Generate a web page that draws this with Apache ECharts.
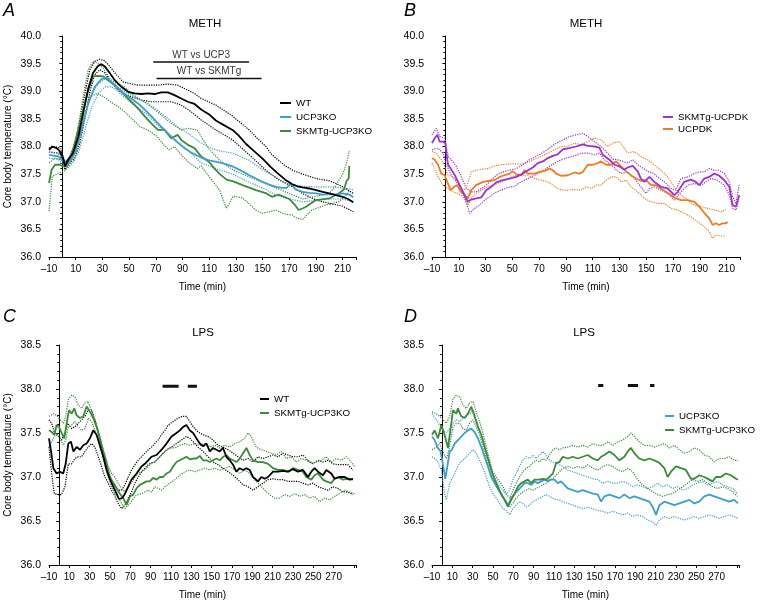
<!DOCTYPE html>
<html>
<head>
<meta charset="utf-8">
<script src="https://cdn.jsdelivr.net/npm/echarts@6/dist/echarts.min.js"></script>
<style>html,body{margin:0;padding:0;background:#fff}#c{width:760px;height:602px}</style>
</head>
<body>
<div id="c"></div>
<script>
// ---------------- DATA ([time min, temperature °C]) ----------------
// Panel A – METH
const A_WT = [[-10,37.94],[-7.5,38.0],[-4.3,37.97],[-1.8,37.91],[0.5,37.8],[2,37.64],[4.4,37.76],[8,37.88],[12,38.18],[15.6,38.6],[19.4,39.05],[23,39.33],[26.8,39.46],[29.3,39.49],[31.8,39.45],[35.5,39.33],[39.3,39.2],[44.2,39.08],[49.2,38.99],[54.2,38.96],[59.2,38.95],[64.1,38.96],[69.1,38.95],[74.1,38.98],[79,38.98],[84,38.93],[89,38.87],[94,38.81],[99,38.77],[104,38.67],[110,38.58],[115,38.47],[120,38.4],[127.5,38.3],[132,38.2],[137.5,38.05],[143,37.93],[150,37.78],[156,37.63],[162,37.5],[167,37.4],[172,37.32],[176,37.28],[180,37.26],[185,37.24],[190,37.21],[195,37.18],[200,37.15],[205,37.12],[210,37.09],[214,37.05],[218,36.99]];
const A_WT_up = [[-10,37.97],[-5.5,38.0],[-1,37.96],[2,37.7],[5.7,37.82],[9.4,38.06],[13.1,38.48],[16.9,38.96],[20.6,39.39],[24.3,39.54],[28,39.58],[31.8,39.55],[35.5,39.45],[40.5,39.3],[45.5,39.17],[50.4,39.14],[56.7,39.11],[64,39.11],[71.6,39.11],[79,39.13],[86.5,39.11],[94,39.02],[99,38.96],[104,38.87],[115,38.75],[127.5,38.55],[140,38.3],[146,38.15],[152.5,38.0],[157,37.85],[162,37.75],[167,37.65],[172.5,37.57],[180,37.5],[190,37.42],[200,37.38],[205,37.33],[210,37.27],[218,37.15]];
const A_WT_lo = [[-10,37.9],[-1.8,37.88],[2,37.58],[5.7,37.7],[9.4,37.79],[13.1,38.06],[16.9,38.51],[20.6,38.99],[24.3,39.3],[28,39.39],[31.8,39.33],[35.5,39.2],[40.5,39.05],[45.5,38.96],[51.7,38.9],[59.2,38.84],[66.6,38.81],[74.1,38.81],[81.5,38.81],[89,38.75],[96.5,38.63],[104,38.48],[115,38.3],[127.5,38.12],[140,37.85],[152.5,37.57],[162,37.4],[172.5,37.27],[180,37.15],[190,37.03],[200,36.97],[210,36.92],[218,36.82]];
const A_UCP = [[-10,37.85],[-3,37.82],[0.7,37.73],[2.4,37.67],[5.7,37.73],[9.4,37.88],[14.4,38.3],[19.4,38.78],[24.3,39.08],[29.3,39.22],[33,39.25],[36.8,39.17],[41.7,39.05],[46.7,38.95],[51.7,38.87],[56.7,38.78],[61.6,38.67],[66.6,38.55],[71.6,38.42],[76.6,38.3],[81.5,38.18],[86.5,38.07],[91.5,37.97],[96.5,37.89],[104,37.8],[110,37.75],[120,37.7],[127.5,37.64],[135,37.55],[140,37.48],[145,37.42],[150,37.36],[155,37.31],[160,37.27],[165,37.25],[168,37.25],[171,37.33],[175,37.22],[180,37.18],[185,37.16],[190,37.15],[195,37.13],[200,37.14],[205,37.13],[210,37.15],[215,37.13],[218,37.08]];
const A_UCP_up = [[-10,37.9],[-3,37.87],[2.4,37.73],[7,37.82],[12,38.06],[17,38.57],[22,38.96],[27,39.14],[32,39.22],[37,39.17],[42,39.07],[49,38.96],[56,38.87],[64,38.78],[71,38.66],[79,38.51],[86,38.36],[94,38.24],[103,38.08],[110,37.98],[118,37.92],[127.5,37.88],[140,37.75],[150,37.58],[160,37.44],[170,37.32],[180,37.28],[190,37.27],[200,37.27],[210,37.25],[218,37.22]];
const A_UCP_lo = [[-10,37.79],[-3,37.77],[2.4,37.61],[7,37.76],[12,37.88],[17,38.3],[22,38.72],[27,38.96],[32,39.08],[37,39.08],[42,38.99],[49,38.84],[56,38.71],[64,38.57],[71,38.39],[79,38.24],[86,38.09],[94,37.94],[104,37.7],[115,37.6],[127.5,37.5],[140,37.35],[150,37.25],[160,37.12],[170,37.05],[180,37.0],[190,37.02],[200,37.05],[210,37.05],[218,37.0]];
const A_SK = [[-10,37.34],[-8,37.58],[-5.5,37.67],[-2,37.67],[0.7,37.64],[2.4,37.65],[4.4,37.7],[8,37.94],[12,38.3],[15.6,38.66],[19.4,39.02],[23,39.27],[26.8,39.28],[30.5,39.27],[34.3,39.2],[39.3,39.11],[43,39.02],[46.7,38.93],[51.7,38.81],[56.7,38.69],[61.6,38.55],[66.6,38.42],[71.6,38.3],[76.6,38.3],[81.5,38.15],[86.5,38.21],[89,38.12],[94,38.03],[99,37.97],[104,37.82],[110,37.72],[114,37.6],[118,37.5],[123,37.4],[128,37.37],[135,37.3],[145,37.21],[153,37.15],[157,37.09],[162,37.13],[170,37.05],[174,36.95],[177,36.85],[182,36.9],[190,37.03],[200,37.06],[207,37.15],[211,37.22],[213,37.38],[214.5,37.42],[215,37.65]];
const A_SK_up = [[-10,37.7],[-5.5,37.79],[2,37.73],[7,37.82],[12,38.36],[15.6,38.9],[19.4,39.39],[23,39.54],[26.8,39.51],[30.5,39.42],[35.5,39.23],[40.5,39.14],[46.7,39.08],[51.7,38.96],[59,38.84],[66.6,38.72],[74,38.57],[81.5,38.42],[89,38.3],[94,38.33],[101,38.3],[104,38.18],[110,37.95],[118,37.75],[125,37.62],[130,37.55],[140,37.45],[150,37.35],[160,37.25],[165,37.2],[175,37.1],[180,37.05],[190,37.1],[200,37.15],[205,37.3],[210,37.5],[213,37.7],[215,37.92]];
const A_SK_lo = [[-10,36.83],[-7.5,37.46],[-2.5,37.52],[1.2,37.55],[5,37.64],[8.7,37.73],[12.4,38.12],[16.2,38.54],[21,38.9],[26,38.96],[31,38.9],[36,38.81],[42,38.72],[48,38.6],[53,38.48],[58,38.36],[64,38.3],[71,38.18],[76,38.03],[80,37.94],[84,38.0],[89,37.85],[94,37.73],[101,37.6],[104,37.65],[110,37.45],[115,37.3],[118,37.2],[121,37.0],[123,36.88],[128,37.1],[135,37.07],[145,36.85],[150,36.79],[160,36.85],[166,36.78],[172,36.76],[176,36.7],[180,36.68],[187,36.85],[197,36.94],[207,37.0],[212,37.1],[215,37.2]];
const A_sig1 = [[68.1,39.53],[139.9,39.53]];
const A_sig2 = [[70.6,39.23],[149.2,39.23]];

// Panel B – METH
const B_SKD = [[-10,38.06],[-8,38.15],[-6,38.21],[-4.3,38.09],[-1.8,38.09],[0,38.06],[0.7,37.88],[2,37.67],[4,37.6],[7,37.48],[10.6,37.3],[14.4,37.12],[16.8,37.0],[19.3,37.04],[23,37.06],[26.8,37.08],[30.5,37.21],[34.2,37.27],[38,37.35],[43,37.39],[48,37.42],[52.9,37.45],[57.9,37.51],[61.6,37.57],[65.3,37.62],[69,37.7],[72.8,37.73],[76.5,37.79],[80.2,37.83],[84,37.86],[87.7,37.95],[92.7,37.97],[97.6,38.0],[102.6,38.04],[106.3,38.01],[111.3,38.0],[115,37.98],[117.5,37.85],[122.5,37.76],[126.2,37.67],[130,37.64],[133.7,37.58],[136,37.62],[139.9,37.65],[143.6,37.55],[146,37.42],[148.6,37.36],[152.3,37.45],[156,37.36],[161,37.27],[166,37.24],[171,37.12],[173.5,37.18],[178.4,37.36],[183.4,37.4],[187,37.36],[189.6,37.3],[193.3,37.42],[197,37.45],[200.8,37.51],[204.5,37.47],[208.3,37.39],[212,37.27],[214.5,36.94],[217,36.91],[219.4,37.12]];
const B_SKD_up = [[-10,38.21],[-6.8,38.33],[-4.3,38.18],[-0.5,38.15],[2,37.82],[4.4,37.76],[8.2,37.64],[11.9,37.45],[15.6,37.24],[19.3,37.18],[23,37.18],[26.8,37.24],[30.5,37.3],[34.3,37.39],[38,37.48],[43,37.54],[48,37.57],[52.9,37.6],[57.9,37.67],[62.8,37.76],[67.8,37.82],[72.8,37.89],[77.7,37.97],[82.7,38.06],[87.7,38.12],[92.7,38.18],[97.6,38.21],[102.6,38.24],[106.3,38.18],[111.3,38.09],[116.3,38.0],[121.2,37.88],[125,37.77],[128.7,37.76],[132.4,37.73],[136.2,37.7],[139.9,37.76],[143.6,37.67],[147.3,37.61],[151,37.55],[154.8,37.52],[158.5,37.45],[163.5,37.36],[168.5,37.24],[172.2,37.21],[175.9,37.42],[180.9,37.45],[185.9,37.51],[189.6,37.54],[193.3,37.54],[197,37.6],[200.8,37.57],[204.5,37.57],[208.3,37.51],[212,37.36],[214.5,37.09],[217,36.97],[219.4,37.3]];
const B_SKD_lo = [[-10,37.94],[-5.5,37.97],[-1.8,37.88],[0.7,37.67],[4.4,37.48],[8.2,37.36],[11.9,37.21],[15.6,37.0],[18.1,36.79],[21.8,36.88],[25.5,36.94],[29.3,37.03],[33,37.09],[36.7,37.16],[41.7,37.21],[46.7,37.26],[51.6,37.28],[56.6,37.36],[61.6,37.42],[66.6,37.48],[71.5,37.54],[76.5,37.62],[81.5,37.7],[86.4,37.76],[91.4,37.8],[96.4,37.83],[101.4,37.88],[106.3,37.88],[111.3,37.85],[115,37.88],[118.7,37.76],[123.7,37.67],[127.5,37.58],[131.2,37.51],[136.2,37.54],[141.1,37.42],[146,37.27],[149.8,37.15],[152.3,37.24],[156,37.27],[161,37.21],[166,37.15],[171,37.03],[176,37.18],[181,37.3],[186,37.33],[191,37.3],[194.5,37.36],[198.2,37.42],[203.2,37.39],[208.2,37.3],[212,37.12],[214.5,36.88],[217,36.85],[219.4,37.09]];
const B_UD = [[-10,37.79],[-8,37.76],[-5.5,37.67],[-3,37.51],[-0.5,37.48],[1.4,37.36],[4,37.21],[6.4,37.27],[9,37.3],[11.4,37.18],[14.4,37.12],[16.8,37.06],[19.3,37.21],[23,37.3],[28,37.36],[33,37.38],[36.7,37.39],[40.5,37.45],[44.2,37.48],[48,37.51],[50.4,37.55],[52.9,37.5],[56.6,37.48],[59,37.57],[61.6,37.51],[66.6,37.51],[70.3,37.54],[74,37.56],[77.7,37.6],[80.2,37.57],[82.7,37.51],[86.4,37.47],[91.4,37.48],[96.4,37.53],[100,37.51],[102.6,37.54],[106.3,37.67],[110,37.67],[113.8,37.7],[116.3,37.73],[120,37.67],[123.7,37.67],[127.5,37.73],[131.2,37.64],[135,37.55],[138.6,37.48],[142.4,37.42],[146,37.38],[149.8,37.39],[153.6,37.3],[157.3,37.3],[161,37.24],[164.7,37.18],[168.5,37.12],[172.2,37.06],[175.9,37.03],[180.9,37.03],[185.9,37.0],[189.6,36.91],[193.3,36.8],[197,36.7],[199.5,36.58],[202,36.61],[204.5,36.58],[207,36.61],[209.5,36.61],[210.7,36.64]];
const B_UD_up = [[-10,37.91],[-6.8,37.88],[-3,37.76],[-0.5,37.64],[2,37.48],[5.7,37.45],[9.4,37.36],[13.1,37.21],[15.6,37.24],[19.3,37.54],[23,37.57],[26.8,37.59],[31.8,37.6],[36.7,37.65],[41.7,37.67],[46.7,37.68],[51.6,37.69],[56.6,37.68],[61.6,37.71],[66.6,37.77],[71.5,37.82],[76.5,37.88],[81.5,37.94],[86.4,38.0],[91.4,38.0],[96.4,38.06],[101.4,38.03],[106.3,38.09],[111.3,38.15],[116.3,38.12],[121.2,38.0],[125,38.06],[130,38.09],[136.2,37.88],[141,37.91],[146,37.82],[151,37.76],[156,37.67],[161,37.57],[166,37.45],[171,37.27],[176,37.12],[181,37.03],[186,36.94],[191,36.91],[196,36.88],[201,36.85],[206,36.82],[209.5,36.86]];
const B_UD_lo = [[-10,37.7],[-5.5,37.45],[-1.8,37.3],[2,37.24],[5.7,37.18],[9.4,37.15],[13.1,37.09],[16.9,36.94],[19.3,37.06],[23,37.15],[26.8,37.21],[30.5,37.26],[34.3,37.3],[38,37.32],[41.7,37.36],[46.7,37.42],[51.6,37.47],[56.6,37.48],[61.6,37.48],[66.6,37.42],[71.5,37.39],[76.5,37.36],[80.2,37.3],[84,37.24],[87.7,37.21],[91.4,37.21],[96.4,37.22],[101.4,37.21],[105,37.27],[108.8,37.24],[112.5,37.3],[116.3,37.3],[120,37.39],[123.7,37.45],[127.5,37.45],[131.2,37.36],[135,37.39],[138.6,37.27],[143.6,37.18],[148.6,37.06],[153.6,37.0],[158.5,36.97],[163.5,36.97],[168.5,36.88],[173.5,36.85],[178.4,36.79],[183.4,36.73],[188.3,36.64],[193.3,36.55],[197,36.46],[199.5,36.34],[202,36.4],[205.7,36.38],[209.5,36.38]];

// Panel C – LPS
const C_WT = [[-10,37.44],[-8,37.29],[-5.7,37.1],[-2.5,37.04],[0.8,37.06],[4,37.04],[6.4,37.15],[9,37.38],[11.6,37.4],[14,37.29],[17.2,37.34],[20.5,37.31],[23.7,37.36],[27,37.38],[30.3,37.44],[33.5,37.53],[36.8,37.48],[40,37.36],[43.4,37.23],[46.6,37.08],[50,36.97],[53.2,36.89],[56.5,36.81],[58.8,36.75],[62,36.76],[64.7,36.81],[68,36.89],[71.2,36.97],[76.1,37.04],[81,37.12],[84.3,37.15],[87.6,37.19],[90.8,37.23],[95.8,37.25],[100.7,37.31],[105.6,37.38],[110.5,37.46],[115.4,37.5],[118.7,37.53],[122,37.57],[125.2,37.59],[128.5,37.53],[131.8,37.5],[135,37.44],[138.3,37.38],[141.6,37.35],[144.9,37.38],[148.2,37.29],[151.4,37.33],[154.7,37.31],[158,37.29],[161.2,37.33],[164.5,37.23],[167.8,37.19],[171,37.14],[174.3,37.06],[177.6,37.1],[180.9,37.08],[184.2,37.1],[187.4,37.08],[190.7,37.0],[195.6,36.95],[198.9,37.0],[202.2,36.98],[205.5,37.0],[210.4,37.06],[215.3,37.06],[220.2,37.07],[225.1,37.06],[230,37.09],[235,37.06],[239.8,37.08],[244.8,37.0],[248,37.06],[251.3,37.1],[254.6,37.06],[259.5,37.02],[262.8,37.08],[267.7,37.04],[271,36.98],[275.9,37.0],[280.8,37.0],[285.7,36.97],[289,36.98]];
const C_WT_up = [[-10,37.65],[-7.4,37.61],[-4.8,37.51],[-0.8,37.46],[2.4,37.42],[5.7,37.51],[8.3,37.61],[12.3,37.55],[15.5,37.57],[18.8,37.61],[22.1,37.65],[25.4,37.69],[28.6,37.76],[31.9,37.76],[35.2,37.65],[38.5,37.5],[41.7,37.34],[45,37.19],[48.3,37.06],[51.6,36.97],[54.8,36.91],[58.1,36.85],[61.4,36.85],[64.7,36.91],[67.9,37.0],[71.2,37.08],[74.5,37.14],[77.8,37.19],[81,37.23],[84.3,37.27],[87.6,37.31],[90.9,37.34],[94.1,37.38],[97.4,37.42],[100.7,37.48],[104,37.53],[107.2,37.59],[112.1,37.63],[117,37.67],[121.9,37.69],[125.2,37.69],[128.5,37.63],[131.8,37.57],[136.7,37.51],[141.6,37.48],[146.5,37.46],[151.4,37.42],[156.3,37.36],[161.3,37.34],[166.2,37.31],[171.1,37.27],[176,37.23],[180.9,37.19],[185.8,37.21],[190.7,37.17],[195.6,37.23],[200.5,37.21],[205.5,37.23],[210.4,37.25],[215.3,37.23],[220.2,37.27],[225.1,37.25],[230,37.23],[234.9,37.23],[239.8,37.25],[244.7,37.19],[249.7,37.15],[254.6,37.19],[259.5,37.17],[264.4,37.19],[269.3,37.15],[274.2,37.14],[279.1,37.14],[284,37.14],[289,37.08]];
const C_WT_lo = [[-10,37.34],[-7.4,37.04],[-4.8,36.81],[-0.8,36.8],[2.4,36.8],[5.7,36.89],[9,37.15],[12.3,37.15],[15.5,37.21],[18.8,37.23],[22.1,37.23],[25.4,37.29],[28.6,37.34],[31.9,37.38],[35.2,37.34],[38.5,37.23],[41.7,37.12],[45,37.0],[48.3,36.93],[51.6,36.85],[54.8,36.78],[58.1,36.7],[61.4,36.64],[64.7,36.68],[67.9,36.76],[71.2,36.83],[74.5,36.93],[77.8,37.0],[81,37.06],[84.3,37.1],[87.6,37.14],[90.9,37.16],[94.1,37.17],[97.4,37.21],[100.7,37.25],[105.6,37.31],[110.5,37.34],[115.4,37.38],[120.3,37.42],[125.2,37.46],[128.5,37.44],[131.8,37.4],[136.7,37.34],[141.6,37.29],[146.5,37.23],[151.4,37.17],[156.3,37.14],[161.3,37.1],[166.2,37.06],[171.1,37.02],[176,36.97],[180.9,36.91],[185.8,36.89],[190.7,36.85],[195.6,36.89],[200.5,36.93],[205.5,36.97],[210.4,36.98],[215.3,36.97],[220.2,36.97],[225.1,36.95],[230,36.95],[234.9,36.95],[239.8,36.93],[244.7,36.91],[249.7,36.93],[254.6,36.89],[259.5,36.87],[264.4,36.85],[269.3,36.89],[274.2,36.87],[279.1,36.83],[284,36.83],[289,36.8]];
const C_SK = [[-10,37.53],[-7.4,37.51],[-4.8,37.48],[-2.5,37.59],[-0.2,37.57],[2.4,37.5],[5.1,37.44],[7.4,37.61],[9.6,37.76],[12.3,37.72],[14.9,37.78],[17.2,37.7],[20.5,37.67],[23.7,37.69],[27,37.8],[30.3,37.74],[33.5,37.67],[36.8,37.57],[40.1,37.44],[43.4,37.29],[46.6,37.16],[49.9,37.0],[53.2,36.93],[56.5,36.87],[59.7,36.81],[63,36.76],[66.3,36.68],[69.6,36.78],[72.8,36.8],[76.1,36.87],[79.4,36.91],[82.7,36.93],[85.9,36.95],[89.2,36.95],[92.5,36.99],[95.8,36.97],[99,37.0],[102.3,37.0],[105.6,37.04],[108.9,37.06],[112.1,37.12],[115.4,37.17],[118.7,37.19],[122,37.21],[125.2,37.23],[128.5,37.2],[131.8,37.21],[135.1,37.21],[138.3,37.24],[141.6,37.19],[144.9,37.19],[148.2,37.17],[151.4,37.19],[154.7,37.21],[158,37.19],[161.3,37.23],[164.5,37.25],[167.8,37.21],[171.1,37.19],[174.3,37.17],[177.6,37.21],[180.9,37.27],[184.2,37.33],[187.4,37.25],[190.7,37.19],[195.6,37.17],[200.5,37.17],[205.5,37.15],[210.4,37.1],[215.3,37.08],[220.2,37.08],[225.1,37.06],[230,37.1],[234.9,37.08],[239.8,37.06],[243.1,37.0],[248,36.97],[251.3,37.02],[254.6,37.04],[259.5,36.97],[262.8,36.95],[267.7,36.93],[270.9,36.98],[274.2,37.0],[279.1,36.97],[284,36.98],[289,36.97]];
const C_SK_up = [[-10,37.69],[-5.7,37.72],[-2.5,37.7],[0.8,37.65],[4.1,37.61],[6.4,37.69],[9,37.88],[12.3,37.93],[15.5,37.91],[18.8,37.82],[22.1,37.78],[25.4,37.84],[28.6,37.86],[31.9,37.74],[35.2,37.65],[38.5,37.53],[41.7,37.38],[45,37.25],[48.3,37.12],[51.6,37.04],[54.8,37.0],[58.1,36.93],[61.4,36.87],[64.7,36.83],[67.9,36.89],[71.2,36.93],[74.5,37.0],[77.8,37.04],[81,37.06],[84.3,37.08],[87.6,37.12],[90.9,37.16],[94.1,37.17],[97.4,37.21],[100.7,37.25],[104,37.29],[108.9,37.33],[113.8,37.33],[118.7,37.36],[123.6,37.38],[128.5,37.36],[133.4,37.38],[138.3,37.36],[143.2,37.38],[148.2,37.34],[153.1,37.36],[158,37.33],[162.9,37.36],[167.8,37.34],[172.7,37.38],[177.6,37.4],[182.5,37.44],[185.8,37.5],[189,37.46],[193.9,37.34],[198.9,37.31],[203.8,37.29],[208.7,37.27],[213.6,37.25],[218.6,37.29],[223.5,37.21],[228.4,37.23],[233.3,37.17],[238.2,37.21],[243.1,37.19],[248,37.16],[252.9,37.17],[257.8,37.19],[262.8,37.23],[267.7,37.17],[272.6,37.21],[277.5,37.19],[282.4,37.23],[287.3,37.17],[290.6,37.12]];
const C_SK_lo = [[-10,37.34],[-5.7,37.44],[-2.5,37.5],[0.8,37.44],[4.1,37.36],[6.4,37.42],[9,37.57],[12.3,37.59],[15.5,37.63],[18.8,37.57],[22.1,37.53],[25.4,37.55],[28.6,37.67],[31.9,37.63],[35.2,37.53],[38.5,37.42],[41.7,37.29],[45,37.14],[48.3,37.0],[51.6,36.89],[54.8,36.81],[58.1,36.76],[61.4,36.7],[64.7,36.64],[67.9,36.68],[71.2,36.72],[74.5,36.78],[77.8,36.8],[81,36.81],[84.3,36.83],[87.6,36.85],[90.9,36.83],[94.1,36.89],[97.4,36.87],[100.7,36.85],[104,36.89],[108.9,36.93],[113.8,36.97],[118.7,37.02],[123.6,37.06],[128.5,37.08],[133.4,37.06],[138.3,37.08],[143.2,37.1],[148.2,37.08],[153.1,37.1],[158,37.08],[162.9,37.1],[167.8,37.12],[172.7,37.08],[177.6,37.04],[182.5,37.08],[187.4,37.04],[192.3,36.97],[197.3,36.91],[202.2,36.85],[207.1,36.8],[212,36.76],[216.9,36.76],[221.8,36.8],[226.7,36.78],[231.6,36.81],[236.6,36.78],[241.5,36.8],[246.4,36.76],[251.3,36.78],[256.2,36.72],[261.1,36.76],[266,36.74],[270.9,36.78],[275.9,36.81],[280.8,36.85],[285.7,36.83],[290.6,36.81]];
const C_sig1 = [[101.7,38.03],[117.5,38.03]];
const C_sig2 = [[126.5,38.03],[135.5,38.03]];

// Panel D – LPS
const D_UCP = [[-10,37.46],[-7.4,37.42],[-4.8,37.34],[-1.5,37.29],[0.8,37.14],[3.1,36.98],[5.1,37.12],[7.4,37.29],[9.6,37.31],[12.3,37.38],[15.5,37.42],[18.8,37.46],[22.1,37.5],[25.4,37.53],[28.6,37.55],[31.9,37.51],[35.2,37.44],[38.5,37.34],[41.7,37.23],[45,37.12],[48.3,37.0],[51.6,36.93],[54.8,36.87],[58.1,36.81],[61.4,36.74],[64.7,36.66],[67.9,36.76],[71.2,36.81],[74.5,36.85],[77.8,36.89],[81,36.93],[84.3,36.93],[87.6,36.91],[90.9,36.95],[94.1,36.93],[97.4,36.95],[100.7,36.97],[104,36.95],[107.2,36.97],[110.5,36.97],[113.8,36.93],[117,36.95],[120.3,36.91],[123.6,36.87],[128.5,36.85],[133.4,36.83],[138.3,36.85],[143.2,36.83],[148.2,36.81],[153.1,36.8],[156.3,36.72],[159.6,36.78],[164.5,36.8],[169.4,36.78],[174.3,36.76],[179.2,36.8],[184.2,36.76],[189.1,36.78],[194,36.76],[198.9,36.74],[203.8,36.72],[207.1,36.66],[210.4,36.57],[213.6,36.68],[218.6,36.72],[223.5,36.7],[228.4,36.68],[233.3,36.7],[238.2,36.72],[243.1,36.74],[248,36.7],[252.9,36.72],[257.8,36.78],[262.8,36.8],[267.7,36.78],[272.6,36.76],[277.5,36.74],[282.4,36.72],[287.3,36.74],[291,36.7]];
const D_UCP_up = [[-10,37.72],[-5.7,37.65],[-2.5,37.59],[0.8,37.53],[4.1,37.5],[7.4,37.55],[10.6,37.61],[13.9,37.65],[17.2,37.63],[20.5,37.67],[23.7,37.7],[27,37.72],[30.3,37.76],[33.5,37.65],[36.8,37.53],[40.1,37.42],[43.4,37.29],[46.6,37.16],[49.9,37.02],[53.2,36.97],[56.5,36.89],[59.7,36.85],[63,36.8],[66.3,36.85],[69.6,36.97],[72.8,37.04],[76.1,37.12],[79.4,37.19],[82.7,37.23],[85.9,37.21],[89.2,37.25],[92.5,37.21],[95.8,37.25],[99,37.29],[102.3,37.25],[105.6,37.19],[108.9,37.17],[112.1,37.16],[115.4,37.14],[118.7,37.12],[123.6,37.08],[128.5,37.06],[133.4,37.04],[138.3,37.02],[143.2,37.0],[148.2,36.98],[153.1,36.97],[158,36.93],[162.9,36.95],[167.8,36.93],[172.7,36.93],[177.6,36.95],[182.5,36.93],[187.4,36.89],[192.3,36.91],[197.3,36.89],[202.2,36.87],[207.1,36.89],[212,36.93],[216.9,36.89],[221.8,36.91],[226.7,36.87],[231.6,36.89],[236.6,36.85],[241.5,36.87],[246.4,36.91],[251.3,36.93],[256.2,36.95],[261.1,36.91],[266,36.93],[270.9,36.95],[275.9,36.91],[280.8,36.89],[285.7,36.87],[290.6,36.81]];
const D_UCP_lo = [[-10,37.23],[-7.4,37.21],[-4.1,37.17],[-0.8,37.08],[2.4,36.81],[4.1,36.74],[7.4,36.93],[10.6,37.0],[13.9,37.08],[17.2,37.16],[20.5,37.19],[23.7,37.23],[27,37.27],[30.3,37.31],[33.5,37.27],[36.8,37.19],[40.1,37.1],[43.4,37.0],[46.6,36.89],[49.9,36.81],[53.2,36.76],[56.5,36.7],[59.7,36.64],[63,36.62],[66.3,36.57],[69.6,36.64],[72.8,36.68],[76.1,36.72],[79.4,36.7],[82.7,36.66],[85.9,36.68],[89.2,36.72],[92.5,36.74],[95.8,36.76],[99,36.78],[102.3,36.8],[105.6,36.78],[108.9,36.76],[112.1,36.74],[115.4,36.74],[118.7,36.72],[123.6,36.7],[128.5,36.68],[133.4,36.66],[138.3,36.64],[143.2,36.66],[148.2,36.64],[153.1,36.62],[158,36.61],[162.9,36.59],[167.8,36.61],[172.7,36.59],[177.6,36.57],[182.5,36.59],[187.4,36.55],[192.3,36.57],[197.3,36.55],[202.2,36.51],[207.1,36.49],[210.4,36.45],[213.6,36.51],[218.6,36.55],[223.5,36.53],[228.4,36.55],[233.3,36.53],[238.2,36.51],[243.1,36.53],[248,36.55],[252.9,36.53],[257.8,36.55],[262.8,36.57],[267.7,36.55],[272.6,36.53],[277.5,36.55],[282.4,36.57],[287.3,36.55],[291,36.53]];
const D_SK = [[-10,37.48],[-7.4,37.53],[-4.1,37.44],[-0.8,37.59],[2.4,37.48],[5.7,37.33],[9,37.61],[10.6,37.76],[13.9,37.72],[15.5,37.78],[18.8,37.69],[22.1,37.67],[25.4,37.72],[28.6,37.8],[31.9,37.69],[35.2,37.57],[38.5,37.48],[41.7,37.34],[45,37.21],[48.3,37.08],[51.6,36.97],[54.8,36.89],[58.1,36.8],[61.4,36.74],[64.7,36.67],[67.9,36.74],[71.2,36.81],[74.5,36.89],[77.8,36.93],[81,36.95],[84.3,36.97],[87.6,36.93],[90.9,36.97],[95.8,36.97],[99,36.98],[102.3,36.97],[105.6,37.0],[108.9,37.04],[112.1,37.16],[115.4,37.17],[118.7,37.23],[123.6,37.21],[128.5,37.23],[133.4,37.21],[138.3,37.23],[143.2,37.25],[148.2,37.21],[153.1,37.19],[156.3,37.23],[159.6,37.25],[164.5,37.29],[169.4,37.25],[174.3,37.19],[179.2,37.23],[182.5,37.29],[185.8,37.33],[189,37.27],[193.9,37.21],[198.9,37.19],[203.8,37.21],[208.7,37.19],[213.6,37.16],[218.6,37.1],[221.8,37.0],[225.1,37.06],[230,37.12],[234.9,37.1],[239.8,37.08],[244.7,36.98],[248,36.98],[252.9,37.02],[257.8,37.0],[262.8,36.97],[266,36.95],[269.3,37.0],[274.2,37.0],[279.1,37.04],[284,37.02],[289,36.98],[291,36.97]];
const D_SK_up = [[-10,37.74],[-5.7,37.72],[-2.5,37.69],[0.8,37.65],[4.1,37.61],[7.4,37.69],[10.6,37.89],[13.9,37.93],[17.2,37.91],[20.5,37.82],[23.7,37.78],[27,37.84],[30.3,37.86],[33.5,37.74],[36.8,37.63],[40.1,37.5],[43.4,37.34],[46.6,37.19],[49.9,37.06],[53.2,37.0],[56.5,36.95],[59.7,36.89],[63,36.81],[66.3,36.76],[69.6,36.85],[72.8,36.93],[76.1,37.0],[79.4,37.06],[82.7,37.1],[85.9,37.12],[89.2,37.16],[92.5,37.19],[95.8,37.17],[99,37.21],[102.3,37.19],[105.6,37.25],[108.9,37.31],[112.1,37.33],[115.4,37.31],[118.7,37.33],[123.6,37.34],[128.5,37.36],[133.4,37.34],[138.3,37.36],[143.2,37.34],[148.2,37.38],[153.1,37.36],[158,37.36],[162.9,37.4],[167.8,37.36],[172.7,37.4],[177.6,37.42],[182.5,37.46],[185.8,37.5],[189,37.46],[193.9,37.4],[198.9,37.36],[203.8,37.36],[208.7,37.34],[213.6,37.36],[218.6,37.38],[223.5,37.33],[228.4,37.36],[233.3,37.31],[238.2,37.27],[243.1,37.29],[248,37.33],[252.9,37.31],[257.8,37.25],[262.8,37.23],[267.7,37.17],[272.6,37.21],[277.5,37.21],[282.4,37.23],[287.3,37.19],[291,37.19]];
const D_SK_lo = [[-10,37.31],[-5.7,37.34],[-2.5,37.38],[0.8,37.29],[4.1,37.21],[6.4,37.29],[10.6,37.57],[13.9,37.61],[17.2,37.61],[20.5,37.55],[23.7,37.53],[27,37.61],[30.3,37.65],[33.5,37.57],[36.8,37.48],[40.1,37.34],[43.4,37.21],[46.6,37.08],[49.9,36.97],[53.2,36.89],[56.5,36.83],[59.7,36.78],[63,36.72],[66.3,36.66],[69.6,36.7],[72.8,36.76],[76.1,36.8],[79.4,36.83],[82.7,36.85],[85.9,36.87],[89.2,36.85],[92.5,36.87],[95.8,36.89],[99,36.91],[102.3,36.93],[105.6,36.97],[108.9,36.98],[112.1,37.02],[115.4,37.06],[118.7,37.1],[123.6,37.12],[128.5,37.1],[133.4,37.12],[138.3,37.1],[143.2,37.14],[148.2,37.1],[153.1,37.08],[158,37.12],[162.9,37.14],[167.8,37.12],[172.7,37.08],[177.6,37.06],[182.5,37.1],[187.4,37.06],[192.3,36.97],[197.3,36.91],[202.2,36.87],[207.1,36.83],[212,36.8],[216.9,36.78],[221.8,36.8],[226.7,36.81],[231.6,36.85],[236.6,36.89],[241.5,36.93],[246.4,36.97],[251.3,36.95],[256.2,36.97],[261.1,36.93],[266,36.89],[270.9,36.87],[275.9,36.89],[280.8,36.87],[285.7,36.83],[290.6,36.78]];
const D_sig1 = [[153.5,38.04],[158.5,38.04]];
const D_sig2 = [[182.7,38.04],[192.7,38.04]];
const D_sig3 = [[204.5,38.04],[208.8,38.04]];

// ---------------- STYLE ----------------
const FONT = 'Liberation Sans, Arial, Helvetica, sans-serif';
const COL = {WT:'#000000', UCP:'#3d9fcb', SK:'#3b8b3b', SKD:'#9c31d4', UD:'#f27b1f'};

function ln(name, data, color, g, dotted) {
  return {type:'line', name, data, xAxisIndex:g, yAxisIndex:g, symbol:'none', showSymbol:false,
    silent:true, animation:false, z: dotted ? 2 : 3,
    lineStyle:{color, width: dotted ? 1.2 : 1.8, type: dotted ? 'dotted' : 'solid'},
    itemStyle:{color}};
}
function bar(data, g, w) {
  return {type:'line', data, xAxisIndex:g, yAxisIndex:g, symbol:'none', silent:true, animation:false,
    lineStyle:{color:'#111', width:w}, itemStyle:{color:'#111'}, z:4};
}
function txt(x, y, text, g) {
  return {type:'scatter', data:[[x,y]], xAxisIndex:g, yAxisIndex:g, symbolSize:0, silent:true, animation:false,
    label:{show:true, position:'top', distance:2, formatter:text, color:'#000', fontSize:10, fontFamily:FONT}};
}
function xAx(g, max, lastLabel, name) {
  return {type:'value', gridIndex:g, min:-10, max, interval:20,
    name, nameLocation:'middle', nameGap:25, nameTextStyle:{fontSize:10, color:'#000', fontFamily:FONT},
    axisLine:{show:true, onZero:false, lineStyle:{color:'#000', width:1}},
    axisTick:{show:true, length:3, lineStyle:{color:'#000'}},
    splitLine:{show:false},
    axisLabel:{fontSize:10, color:'#000', fontFamily:FONT, margin:7,
      formatter: v => (v > lastLabel ? '' : String(v).replace('-', '\u2013'))}};
}
function yAx(g, max, name) {
  return {type:'value', gridIndex:g, min:36, max, interval:0.5,
    name: name || '', nameLocation:'middle', nameGap:36, nameTextStyle:{fontSize:10, color:'#000', fontFamily:FONT},
    axisLine:{show:true, lineStyle:{color:'#000', width:1}},
    axisTick:{show:true, length:3, lineStyle:{color:'#000'}},
    minorTick:{show:true, splitNumber:5, length:2, lineStyle:{color:'#000'}},
    splitLine:{show:false},
    axisLabel:{fontSize:10.5, color:'#000', fontFamily:FONT, margin:8, formatter: v => v.toFixed(1)}};
}
function leg(names, left, top, gap, w) {
  return {data:names, orient:'vertical', left, top, icon:'rect', itemWidth:w, itemHeight:2, itemGap:gap,
    selectedMode:false, textStyle:{fontSize:9.8, color:'#000', fontFamily:FONT, lineHeight:14}, padding:0};
}
function label(x, y, text, size, italic) {
  return {type:'text', left:x, top:y, silent:true,
    style:{text, fontSize:size, fontFamily:FONT, fontStyle: italic ? 'italic' : 'normal', fill:'#000'}};
}
function title(x, y, text) {
  return {type:'text', x, y, silent:true, style:{text, fontSize:11.5, fontFamily:FONT, fill:'#000', align:'center'}};
}

const chart = echarts.init(document.getElementById('c'), null, {renderer:'canvas'});
const option = {
  backgroundColor:'#fff',
  animation:false,
  grid:[
    {left:49, top:36, width:307, height:221, outerBoundsMode:'none', containLabel:false},
    {left:432, top:36, width:308, height:221, outerBoundsMode:'none', containLabel:false},
    {left:49, top:345, width:307, height:220, outerBoundsMode:'none', containLabel:false},
    {left:432, top:345, width:307, height:220, outerBoundsMode:'none', containLabel:false}
  ],
  xAxis:[xAx(0,220,210,'Time (min)'), xAx(1,220,210,'Time (min)'), xAx(2,292,270,'Time (min)'), xAx(3,292,270,'Time (min)')],
  yAxis:[yAx(0,40,'Core body temperature (\u00B0C)'), yAx(1,40), yAx(2,38.5,'Core body temperature (\u00B0C)'), yAx(3,38.5)],
  legend:[
    leg(['WT','UCP3KO','SKMTg-UCP3KO'], 280, 96, 0, 11),
    leg(['SKMTg-UCPDK','UCPDK'], 663, 110, -2, 10),
    leg(['WT','SKMTg-UCP3KO'], 260, 392, 0, 9),
    leg(['UCP3KO','SKMTg-UCP3KO'], 665, 409, 0, 9)
  ],
  graphic:[
    label(3, 2, 'A', 18, true), label(404, 2, 'B', 18, true),
    label(3, 308, 'C', 18, true), label(404, 308, 'D', 18, true),
    title(205, 18, 'METH'), title(586, 18, 'METH'), title(203, 327, 'LPS'), title(584, 327, 'LPS')
  ],
  series:[
    // A
    ln('WT_up', A_WT_up, COL.WT, 0, true), ln('WT_lo', A_WT_lo, COL.WT, 0, true),
    ln('UCP_up', A_UCP_up, COL.UCP, 0, true), ln('UCP_lo', A_UCP_lo, COL.UCP, 0, true),
    ln('SK_up', A_SK_up, COL.SK, 0, true), ln('SK_lo', A_SK_lo, COL.SK, 0, true),
    ln('SKMTg-UCP3KO', A_SK, COL.SK, 0, false),
    ln('UCP3KO', A_UCP, COL.UCP, 0, false),
    ln('WT', A_WT, COL.WT, 0, false),
    bar(A_sig1, 0, 1.5), bar(A_sig2, 0, 1.5),
    txt(104, 39.53, 'WT vs UCP3', 0), txt(109.9, 39.23, 'WT vs SKMTg', 0),
    // B
    ln('SKD_up', B_SKD_up, COL.SKD, 1, true), ln('SKD_lo', B_SKD_lo, COL.SKD, 1, true),
    ln('UD_up', B_UD_up, COL.UD, 1, true), ln('UD_lo', B_UD_lo, COL.UD, 1, true),
    ln('UCPDK', B_UD, COL.UD, 1, false),
    ln('SKMTg-UCPDK', B_SKD, COL.SKD, 1, false),
    // C
    ln('CWT_up', C_WT_up, COL.WT, 2, true), ln('CWT_lo', C_WT_lo, COL.WT, 2, true),
    ln('CSK_up', C_SK_up, COL.SK, 2, true), ln('CSK_lo', C_SK_lo, COL.SK, 2, true),
    ln('SKMTg-UCP3KO', C_SK, COL.SK, 2, false),
    ln('WT', C_WT, COL.WT, 2, false),
    bar(C_sig1, 2, 3), bar(C_sig2, 2, 3),
    // D
    ln('DUCP_up', D_UCP_up, COL.UCP, 3, true), ln('DUCP_lo', D_UCP_lo, COL.UCP, 3, true),
    ln('DSK_up', D_SK_up, COL.SK, 3, true), ln('DSK_lo', D_SK_lo, COL.SK, 3, true),
    ln('UCP3KO', D_UCP, COL.UCP, 3, false),
    ln('SKMTg-UCP3KO', D_SK, COL.SK, 3, false),
    bar(D_sig1, 3, 3), bar(D_sig2, 3, 3), bar(D_sig3, 3, 3)
  ]
};
chart.setOption(option);
</script>
</body>
</html>
